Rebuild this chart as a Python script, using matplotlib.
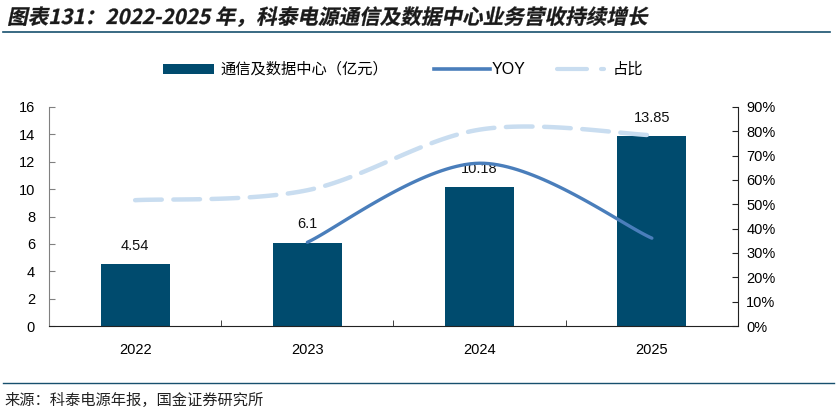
import numpy as np
import matplotlib
matplotlib.use("Agg")
import matplotlib.pyplot as plt
from matplotlib.ticker import FuncFormatter, FixedLocator
from matplotlib.textpath import TextPath
from matplotlib.patches import PathPatch, Rectangle
from matplotlib.font_manager import FontProperties
from matplotlib.lines import Line2D
import matplotlib.transforms as mtransforms

plt.rcParams["font.family"] = ["Liberation Sans", "Noto Sans CJK SC", "DejaVu Sans"]

years = ["2022", "2023", "2024", "2025"]
revenue = [4.54, 6.1, 10.18, 13.85]          # 亿元
yoy = [None, 0.344, 0.669, 0.361]
share = [0.517, 0.558, 0.807, 0.784]

title = "图表131：2022-2025 年，科泰电源通信及数据中心业务营收持续增长"
source = "来源：科泰电源年报，国金证券研究所"

BAR = "#004B6E"
YOY_C = "#4A7EBB"
SHARE_C = "#C9DDF0"
CJK = ["Noto Sans CJK SC", "DejaVu Sans"]

W, H = 837, 412
fig = plt.figure(figsize=(W / 100, H / 100), dpi=100)
px = mtransforms.Affine2D().scale(1 / 100) + fig.dpi_scale_trans


def smooth(xs, ys, n=40):
    # Excel-style smoothed line (Catmull-Rom bezier)
    pts = np.column_stack([xs, ys]).astype(float)
    out = []
    for i in range(len(pts) - 1):
        p0 = pts[max(i - 1, 0)]
        p1, p2 = pts[i], pts[i + 1]
        p3 = pts[min(i + 2, len(pts) - 1)]
        c1 = p1 + (p2 - p0) / 6
        c2 = p2 - (p3 - p1) / 6
        t = np.linspace(0, 1, n)[:, None]
        seg = (1 - t) ** 3 * p1 + 3 * (1 - t) ** 2 * t * c1 + 3 * (1 - t) * t ** 2 * c2 + t ** 3 * p2
        out.append(seg if i == 0 else seg[1:])
    seg = np.vstack(out)
    return seg[:, 0], seg[:, 1]


# title (slanted) and rule
fp = FontProperties(family=CJK, weight="bold")
tp = TextPath((0, 0), title, size=20.6, prop=fp)
tr = mtransforms.Affine2D().skew_deg(12, 0).translate(7, H - 24)
fig.add_artist(PathPatch(tp, transform=tr + px, facecolor="#1a1a1a", edgecolor="#1a1a1a", lw=0.2))
fig.add_artist(Line2D([3, 830], [H - 32, H - 32], transform=px, color="#17506E", lw=1.2))

# axes
ax = fig.add_axes([49 / W, 1 - 326 / H, (738 - 49) / W, (326 - 107) / H])
x = np.arange(len(years))
ax.bar(x, revenue, width=0.4, color=BAR, zorder=2)
for xi, v in zip(x, revenue):
    ax.annotate(f"{v:g}", (xi, v), xytext=(0, 8), textcoords="offset points",
                ha="center", va="bottom", fontsize=10.5, color="#111111")

ax.set_xlim(-0.5, 3.5)
ax.set_ylim(0, 16)
ax.set_yticks(range(0, 17, 2))
ax.set_xticks(x)
ax.set_xticklabels(years)
ax.xaxis.set_minor_locator(FixedLocator([0.5, 1.5, 2.5]))
ax.tick_params(axis="x", which="major", length=0, pad=12, labelsize=10.5)
ax.tick_params(axis="x", which="minor", direction="in", length=4, color="#222222")
ax.tick_params(axis="y", direction="in", length=4, color="#808080", labelsize=10.5, pad=10)
for s in ["top", "right"]:
    ax.spines[s].set_visible(False)
ax.spines["left"].set_color("#808080")
ax.spines["bottom"].set_color("#222222")

ax2 = ax.twinx()
ax2.set_ylim(0, 0.9)
ax2.set_yticks(np.arange(0, 0.91, 0.1))
ax2.yaxis.set_major_formatter(FuncFormatter(lambda v, _: f"{v * 100:.0f}%"))
ax2.tick_params(axis="y", direction="in", length=4, color="#222222", labelsize=10.5, pad=6)
for s in ["top", "left", "bottom"]:
    ax2.spines[s].set_visible(False)
ax2.spines["right"].set_color("#222222")

sx, sy = smooth(x, share)
ax2.plot(sx, sy, color=SHARE_C, lw=3.2, dashes=(6, 2.6), dash_capstyle="round", zorder=3)
yx = [xi for xi, v in zip(x, yoy) if v is not None]
yv = [v for v in yoy if v is not None]
lx, ly = smooth(yx, yv)
ax2.plot(lx, ly, color=YOY_C, lw=2.4, solid_capstyle="round", zorder=4)

# legend (drawn by hand to match placement)
ly0 = H - 69
fig.add_artist(Rectangle((163, ly0 - 5), 51, 10, transform=px, facecolor=BAR, edgecolor="none"))
fig.text(220 / W, ly0 / H, "通信及数据中心（亿元）", family=CJK, fontsize=11, va="center", ha="left")
fig.add_artist(Line2D([434, 490], [ly0, ly0], transform=px, color=YOY_C, lw=2.6))
fig.text(492 / W, ly0 / H, "YOY", fontsize=11.5, va="center", ha="left")
fig.add_artist(Line2D([557, 587], [ly0, ly0], transform=px, color=SHARE_C, lw=3, solid_capstyle="round"))
fig.add_artist(Line2D([601, 604], [ly0, ly0], transform=px, color=SHARE_C, lw=3, solid_capstyle="round"))
fig.text(613 / W, ly0 / H, "占比", family=CJK, fontsize=11, va="center", ha="left")

# source
fig.add_artist(Line2D([3, 834], [H - 383, H - 383], transform=px, color="#17506E", lw=1.0))
fig.text(4 / W, 1 - 400 / H, source, family=CJK, fontsize=11, va="center", ha="left", color="#222222")

fig.savefig("out.png", dpi=100)
